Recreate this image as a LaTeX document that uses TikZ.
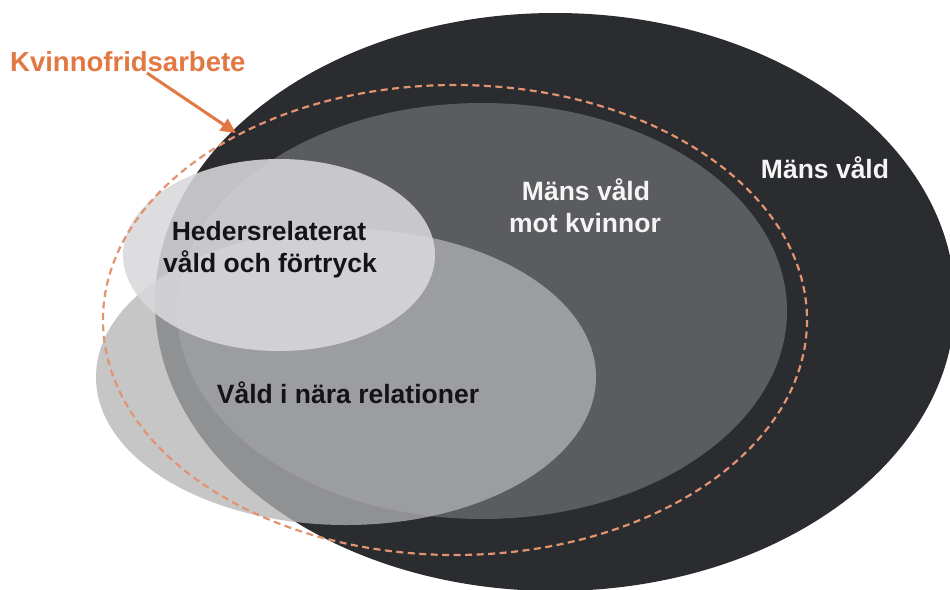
\documentclass[tikz,border=0pt]{standalone}
\usepackage{fontspec}
\setmainfont{Liberation Sans}
\usetikzlibrary{arrows.meta}
\definecolor{darkv}{RGB}{43,44,48}
\definecolor{midv}{RGB}{91,92,95}
\definecolor{lightv}{RGB}{179,179,181}
\definecolor{hederv}{RGB}{217,217,219}
\definecolor{orangev}{RGB}{226,120,66}
\definecolor{dashv}{RGB}{226,148,112}
\definecolor{txtv}{RGB}{20,20,22}
\definecolor{whitev}{RGB}{245,245,245}
\begin{document}
\begin{tikzpicture}[x=1pt,y=-1pt,
  lbl/.style={font=\bfseries\fontsize{26.5}{32}\selectfont, inner sep=0pt, anchor=base},
]
\useasboundingbox (0,0) rectangle (950,589);
\fill[white] (0,0) rectangle (950,589);
% ellipses
\fill[darkv] (555,302) ellipse [x radius=400, y radius=289];
\fill[midv] (482,311) ellipse [x radius=305, y radius=208];
\fill[lightv, fill opacity=0.75] (346,377) ellipse [x radius=250, y radius=148];
\fill[hederv, fill opacity=0.87] (279,255) ellipse [x radius=156, y radius=96];
\draw[dashv, line width=2.2pt, dash pattern=on 7pt off 4.5pt] (455,320) ellipse [x radius=352, y radius=235];
% labels
\node[lbl, orangev, anchor=base west, font=\bfseries\fontsize{27.5}{32}\selectfont] (kv) at (10,71) {Kvinnofridsarbete};
\node[lbl, whitev] (mv) at (825,178) {Mäns våld};
\node[lbl, whitev] (mvk1) at (586,200) {Mäns våld};
\node[lbl, whitev] (mvk2) at (585,232) {mot kvinnor};
\node[lbl, txtv] (h1) at (269,240) {Hedersrelaterat};
\node[lbl, txtv] (h2) at (270,272) {våld och förtryck};
\node[lbl, txtv] (vn) at (348,403) {Våld i nära relationer};
% arrow
\coordinate (astart) at (147,73);
\coordinate (atip) at (236,133);
\draw[orangev, line width=3pt, -{Triangle[length=15pt,width=14pt]}] (astart) -- (atip);
\end{tikzpicture}
\end{document}
